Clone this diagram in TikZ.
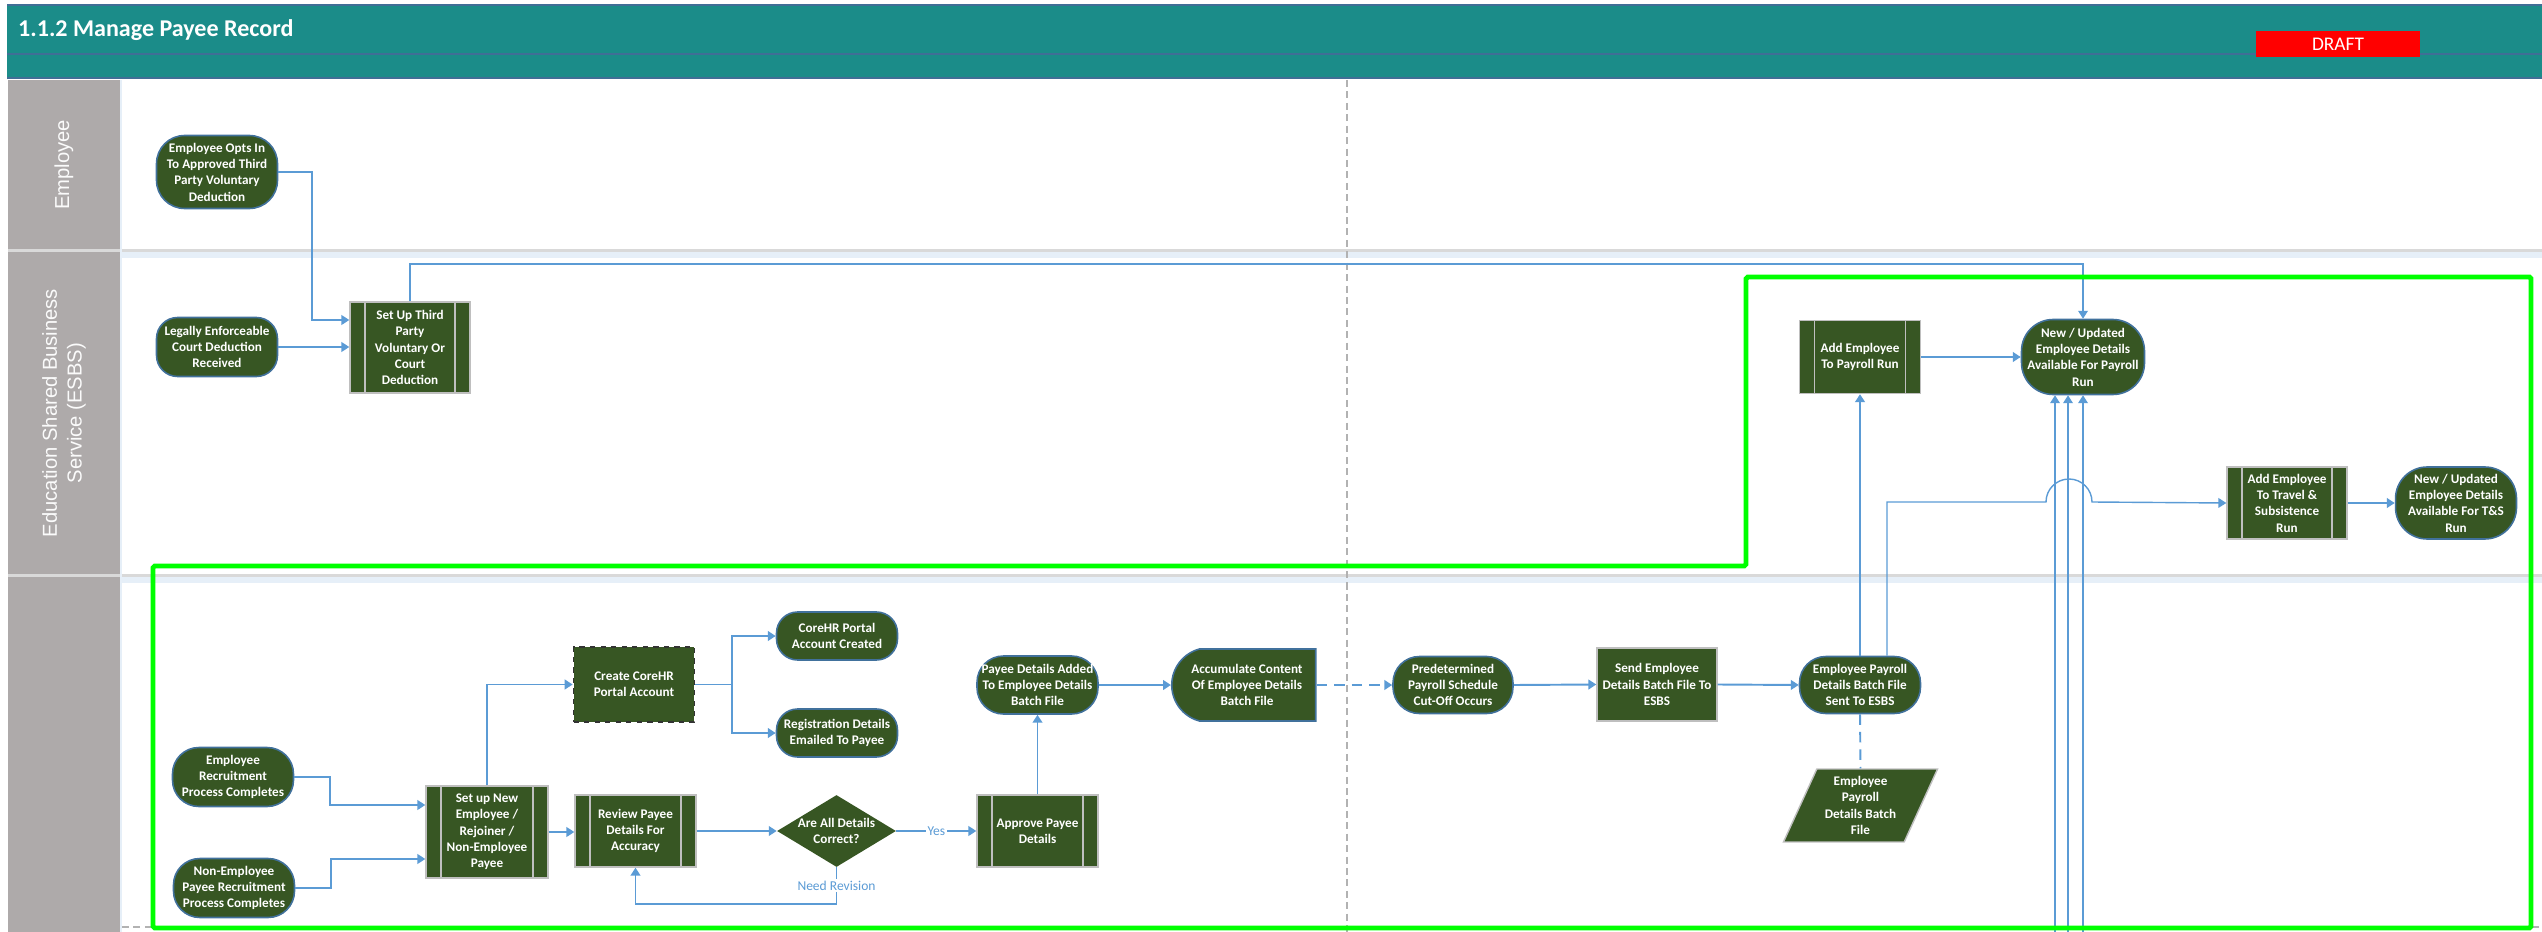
\documentclass[tikz,border=0pt]{standalone}
\usepackage{fontspec}
\setmainfont{Carlito}
\newfontfamily\lanefont{Liberation Sans}
\usetikzlibrary{arrows.meta,shapes.geometric,shapes.misc}

\definecolor{headteal}{RGB}{27,140,137}
\definecolor{headline}{RGB}{64,110,150}
\definecolor{nodegreen}{RGB}{55,86,35}
\definecolor{termblue}{RGB}{65,113,156}
\definecolor{procgray}{RGB}{191,191,191}
\definecolor{flowblue}{RGB}{91,155,213}
\definecolor{lanegray}{RGB}{174,170,170}
\definecolor{laneline}{RGB}{217,217,217}
\definecolor{laneshade}{RGB}{230,239,248}
\definecolor{scopegreen}{RGB}{0,255,0}

\newcommand{\nodefont}{\bfseries\fontsize{7.5}{9.3}\selectfont}

\tikzset{
  terminal/.style={rectangle, rounded corners=#1, draw=termblue, line width=0.9pt,
    fill=nodegreen, text=white, font=\nodefont, align=center, inner sep=1pt,
    minimum width=2.42cm},
  terminal/.default=12pt,
  procbox/.style={rectangle, draw=procgray, line width=0.8pt, fill=nodegreen,
    text=white, font=\nodefont, align=center, inner sep=1pt, minimum width=2.42cm},
  subproc/.style={procbox, path picture={
    \draw[procgray, line width=0.8pt]
      ([xshift=0.3cm]path picture bounding box.north west) -- ([xshift=0.3cm]path picture bounding box.south west)
      ([xshift=-0.3cm]path picture bounding box.north east) -- ([xshift=-0.3cm]path picture bounding box.south east);}},
  flow/.style={draw=flowblue, line width=1.1pt, ->},
  thinflow/.style={flow, line width=0.8pt},
  lbl/.style={text=flowblue, font=\fontsize{7.7}{9.3}\selectfont, fill=white, inner sep=1pt},
  lanelbl/.style={text=white!95!lanegray, font=\lanefont\fontsize{11.5}{14}\selectfont, align=center}
}

\begin{document}
\begin{tikzpicture}[x=0.02cm, y=-0.02cm, >={Triangle[length=4.5pt,width=5.5pt]}]
\useasboundingbox (0,0) rectangle (2542,932);

% header
\fill[headteal] (7,5) rectangle (2542,78);
\draw[headline, line width=0.6pt] (7,5) -- (2542,5) (7,54) -- (2542,54) (7,78) -- (2542,78);
\node[anchor=west, text=white, font=\bfseries\fontsize{13.7}{16}\selectfont] (title) at (12,30) {1.1.2 Manage Payee Record};
\node[fill=red, text=white, font=\fontsize{11}{13}\selectfont, minimum width=3.28cm, minimum height=0.52cm, inner sep=0pt] (draft) at (2338,44) {DRAFT};

% lanes
\fill[lanegray] (8,80) rectangle (120,249);
\fill[lanegray] (8,252) rectangle (120,574);
\fill[lanegray] (8,577) rectangle (120,932);
\fill[laneshade] (121,251) rectangle (2542,258);
\fill[laneshade] (121,576) rectangle (2542,583);
\draw[laneline, line width=1.2pt] (8,250.5) -- (2542,250.5) (8,575.5) -- (2542,575.5);
\draw[laneshade, line width=1pt] (121,80) -- (121,932);
\node[lanelbl, rotate=90] (laneemp) at (64,165) {Employee};
\node[lanelbl, rotate=90] (laneesbs) at (64,413) {Education Shared Business\\Service (ESBS)};

\draw[gray!60, line width=0.7pt, dash pattern=on 4pt off 2.5pt] (1347,80) -- (1347,932);
\draw[gray!60, line width=0.7pt, dash pattern=on 4pt off 2.5pt] (122,927) -- (2542,927);

% employee lane
\node[terminal=16pt, minimum height=1.46cm] (optin) at (217,172) {Employee Opts In\\To Approved Third\\Party Voluntary\\Deduction};

% ESBS lane
\node[terminal, minimum height=1.18cm] (court) at (217,347) {Legally Enforceable\\Court Deduction\\Received};
\node[subproc, minimum width=2.4cm, minimum height=1.82cm] (setup3p) at (410,347.5) {Set Up Third\\Party\\Voluntary Or\\Court\\Deduction};
\node[subproc, minimum height=1.46cm] (addpay) at (1860,357) {Add Employee\\To Payroll Run};
\node[terminal=18pt, minimum width=2.46cm, minimum height=1.5cm] (avpay) at (2083,357) {New / Updated\\Employee Details\\Available For Payroll\\Run};
\node[subproc, minimum width=2.4cm, minimum height=1.44cm] (addts) at (2287,503) {Add Employee\\To Travel \&\\Subsistence\\Run};
\node[terminal=18pt, minimum height=1.44cm] (avts) at (2456,503) {New / Updated\\Employee Details\\Available For T\&S\\Run};

% payroll lane
\node[terminal=15pt, minimum height=1.18cm] (recruit) at (233,777) {Employee\\Recruitment\\Process Completes};
\node[terminal=15pt, minimum height=1.18cm] (nonemp) at (234,888) {Non-Employee\\Payee Recruitment\\Process Completes};
\node[subproc, minimum width=2.44cm, minimum height=1.84cm] (setupnew) at (487,832) {Set up New\\Employee /\\Rejoiner /\\Non-Employee\\Payee};
\node[procbox, draw=black!80, dashed, line width=1pt, minimum height=1.5cm] (createhr) at (634,684.5) {Create CoreHR\\Portal Account};
\node[terminal, minimum height=0.96cm] (hrcreated) at (837,636) {CoreHR Portal\\Account Created};
\node[terminal, minimum height=0.96cm] (regemail) at (837,733) {Registration Details\\Emailed To Payee};
\node[subproc, minimum height=1.44cm] (review) at (635.5,831) {Review Payee\\Details For\\Accuracy};
\node[diamond, aspect=1.65, draw=none, fill=nodegreen, text=white, font=\nodefont, align=center, inner sep=-4pt, minimum width=2.38cm, minimum height=1.44cm] (correct) at (836.5,831) {Are All Details\\Correct?};
\node[subproc, minimum height=1.44cm] (approve) at (1037.5,831) {Approve Payee\\Details};
\node[terminal=15pt, minimum height=1.16cm] (added) at (1037.5,685) {Payee Details Added\\To Employee Details\\Batch File};
\node[rounded rectangle, rounded rectangle right arc=none, rounded rectangle arc length=150, draw=termblue, line width=0.9pt, fill=nodegreen, text=white, font=\nodefont, align=center, inner xsep=-4pt, minimum width=2.6cm, minimum height=1.44cm] (accum) at (1247,685) {Accumulate Content\\Of Employee Details\\Batch File};
\node[terminal=15pt, minimum width=2.4cm, minimum height=1.14cm] (cutoff) at (1453,685) {Predetermined\\Payroll Schedule\\Cut-Off Occurs};
\node[procbox, minimum width=2.4cm, minimum height=1.46cm] (sendbatch) at (1657,684.5) {Send Employee\\Details Batch File To\\ESBS};
\node[terminal=15pt, minimum height=1.14cm] (sent) at (1860,685) {Employee Payroll\\Details Batch File\\Sent To ESBS};
\node[trapezium, trapezium left angle=65, trapezium right angle=115, trapezium stretches=true, draw=procgray, line width=0.8pt, fill=nodegreen, text=white, font=\nodefont, align=center, inner sep=0pt, minimum width=3.1cm, minimum height=1.46cm] (batchfile) at (1860.5,805.5) {Employee\\Payroll\\Details Batch\\File};

% connectors
\draw[flow] (optin.east) -- ++(34,0) |- ([yshift=0.55cm]setup3p.west);
\draw[flow] (court.east) -- (court.east -| setup3p.west);
\draw[thinflow] (setup3p.north) |- (avpay.north |- 0,264) -- (avpay.north);
\draw[flow] (addpay.east) -- (avpay.west);
\foreach \vx in {2055,2068,2083}
  \draw[thinflow] (\vx,935) -- (avpay.south -| \vx,0);
\draw[flow] (sent.north) -- (addpay.south);
\draw[thinflow] ([xshift=0.54cm]sent.north) |- (2046,502) arc[start angle=180, end angle=0, radius=0.46cm] -- (addts.west);
\draw[flow] (addts.east) -- (avts.west);

\draw[flow] (recruit.east) -- ++(36,0) |- ([yshift=0.54cm]setupnew.west);
\draw[flow] (nonemp.east) -- ++(36,0) |- ([yshift=-0.54cm]setupnew.west);
\draw[flow] (setupnew.north) |- (createhr.west);
\draw[flow] (setupnew.east) -- (setupnew.east -| review.west);
\draw[flow] (createhr.east) -- ++(37,0) coordinate (split) |- (hrcreated.west);
\draw[flow] (split) |- (regemail.west);
\draw[flow] (review.east) -- (correct.west);
\draw[flow] (correct.east) -- node[lbl] {Yes} (approve.west);
\draw[flow] (correct.south) -- node[lbl] {Need Revision} ++(0,37) -| (review.south);
\draw[flow] (approve.north) -- (added.south);
\draw[flow] (added.east) -- (accum.west);
\draw[flow, dash pattern=on 6pt off 4pt] (accum.east) -- (cutoff.west);
\draw[flow] (cutoff.east) -- (sendbatch.west);
\draw[flow] (sendbatch.east) -- (sent.west);
\draw[draw=flowblue, line width=1.1pt, dash pattern=on 6pt off 4pt] (sent.south) -- (batchfile.north);

% scope outline
\draw[scopegreen, line width=2.8pt, rounded corners=1pt] (153,566) -- (1746,566) -- (1746,277) -- (2531,277) -- (2531,928) -- (153,928) -- cycle;

\end{tikzpicture}
\end{document}
